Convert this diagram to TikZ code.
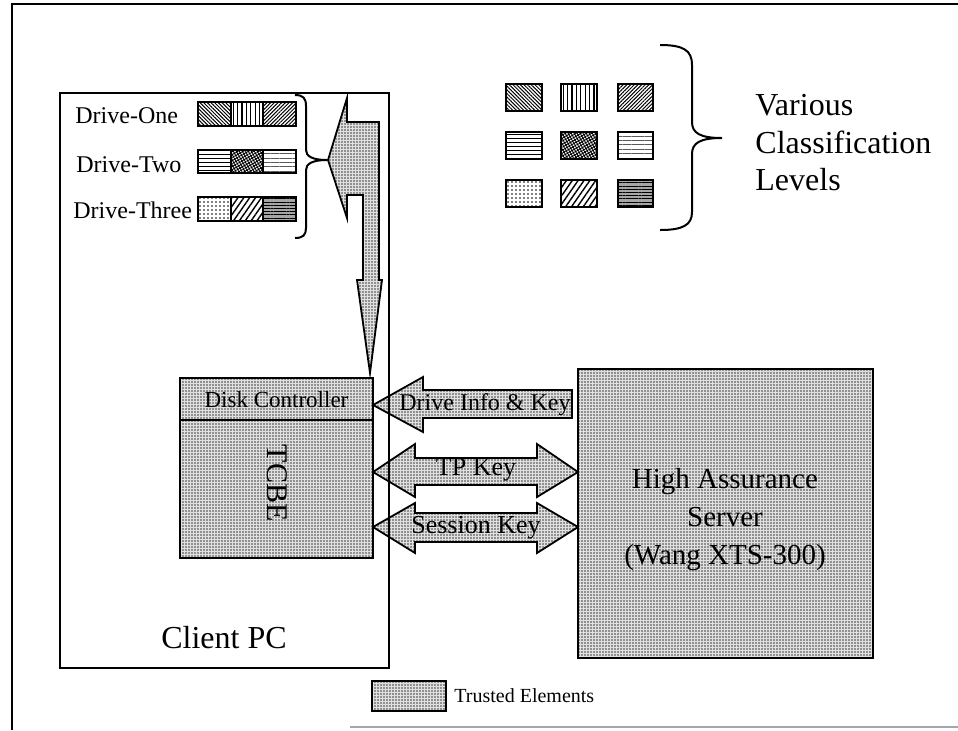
\documentclass[tikz,border=0pt]{standalone}
\usepackage{fontspec}
\setmainfont{Liberation Serif}
\usetikzlibrary{patterns,patterns.meta}
\begin{document}
\begin{tikzpicture}[x=0.5pt,y=-0.5pt,line join=miter,
  trusted/.style={draw,line width=0.9pt,preaction={fill=black!12},
    pattern={Dots[radius=0.42pt,distance=1.5pt]},pattern color=black!75},
  plain/.style={draw,line width=1pt},
  lvl/.style={draw,line width=0.9pt},
  txt/.style={inner sep=0pt},
  pA/.style={pattern={Lines[angle=-45,distance=1.3pt,line width=0.5pt]}},
  pB/.style={pattern={Lines[angle=90,distance=2.2pt,line width=0.55pt]}},
  pC/.style={pattern={Lines[angle=45,distance=1.3pt,line width=0.5pt]}},
  pD/.style={pattern={Lines[angle=0,distance=2pt,line width=0.5pt]}},
  pE/.style={pattern={Hatch[angle=30,distance=1.3pt,line width=0.45pt]}},
  pF/.style={pattern={Lines[angle=0,distance=2.2pt,line width=0.45pt]},pattern color=black!65},
  pG/.style={pattern={Dots[radius=0.4pt,distance=2pt]}},
  pH/.style={pattern={Lines[angle=55,distance=2.4pt,line width=0.7pt]}},
  pI/.style={preaction={fill=black!35},pattern={Lines[angle=0,distance=1.6pt,line width=0.5pt]}}
]
\useasboundingbox (0,0) rectangle (958,730);

% outer frame
\draw[line width=1.2pt] (12,730) -- (12,4) -- (958,4);
\draw[line width=0.8pt,black!35] (350,727) -- (958,727);

% classification levels grid
\draw[lvl,pA] (506,84) rectangle (542,111);
\draw[lvl,pB] (561,84) rectangle (597,111);
\draw[lvl,pC] (618,84) rectangle (653,111);
\draw[lvl,pD] (506,132) rectangle (542,159);
\draw[lvl,pE] (561,132) rectangle (597,159);
\draw[lvl,pF] (618,132) rectangle (653,159);
\draw[lvl,pG] (506,180) rectangle (542,207);
\draw[lvl,pH] (561,180) rectangle (597,207);
\draw[lvl,pI] (618,180) rectangle (653,207);

% right brace
\draw[line width=1pt] (660,45) .. controls (683,45) and (692,50) .. (692,65)
  -- (692,122) .. controls (692,133) and (700,138) .. (722,138)
  .. controls (700,138) and (692,143) .. (692,154)
  -- (692,212) .. controls (692,225) and (683,230) .. (660,230);
\node[txt,anchor=base west,font=\fontsize{16}{19}\selectfont] (various) at (755,115) {Various};
\node[txt,anchor=base west,font=\fontsize{16}{19}\selectfont] (classif) at (755,153) {Classification};
\node[txt,anchor=base west,font=\fontsize{16}{19}\selectfont] (levels) at (755,190) {Levels};

% drives
\node[txt,anchor=base west,font=\fontsize{12}{14}\selectfont] (d1) at (75,123) {Drive-One};
\node[txt,anchor=base west,font=\fontsize{12}{14}\selectfont] (d2) at (76,172) {Drive-Two};
\node[txt,anchor=base west,font=\fontsize{12}{14}\selectfont] (d3) at (73,218) {Drive-Three};
\draw[lvl,pA] (198,102) rectangle (231,126);
\draw[lvl,pB] (231,102) rectangle (263,126);
\draw[lvl,pC] (263,102) rectangle (296,126);
\draw[lvl,pD] (198,150) rectangle (231,173);
\draw[lvl,pE] (231,150) rectangle (263,173);
\draw[lvl,pF] (263,150) rectangle (296,173);
\draw[lvl,pG] (198,197) rectangle (231,221);
\draw[lvl,pH] (231,197) rectangle (263,221);
\draw[lvl,pI] (263,197) rectangle (296,221);

% left brace
\draw[line width=1pt] (295,95) .. controls (303,95) and (306,98) .. (306,106)
  -- (306,150) .. controls (306,156) and (312,160) .. (327,160)
  .. controls (312,160) and (306,164) .. (306,170)
  -- (306,228) .. controls (306,235) and (303,238) .. (295,238);

% big drive arrow
\draw[trusted] (328,160) -- (347,98) -- (347,122) -- (379,122) -- (379,280)
  -- (382,280) -- (370,373) -- (357,280) -- (363,280) -- (363,195)
  -- (347,195) -- (347,218) -- cycle;

% disk controller / TCBE
\draw[trusted] (180,378) rectangle (373,558);
\draw[line width=0.9pt] (180,420) -- (373,420);
\node[txt,font=\fontsize{11.5}{13}\selectfont] (dc) at (276.5,400) {Disk Controller};
\node[txt,rotate=-90,font=\fontsize{15}{18}\selectfont] (tcbe) at (277,483) {TCBE};

% key arrows
\draw[trusted] (373,405) -- (423,377) -- (423,390) -- (572,390) -- (572,418)
  -- (423,418) -- (423,432) -- cycle;
\draw[trusted] (373,472) -- (415,444) -- (415,458) -- (537,458) -- (537,444)
  -- (578,472) -- (537,497) -- (537,485) -- (415,485) -- (415,497) -- cycle;
\draw[trusted] (373,527) -- (415,503) -- (415,513) -- (537,513) -- (537,503)
  -- (578,527) -- (537,553) -- (537,542) -- (415,542) -- (415,553) -- cycle;
\node[txt,font=\fontsize{12}{14}\selectfont] (dik) at (485,405) {Drive Info \& Key};
\node[txt,font=\fontsize{13}{15}\selectfont] (tpk) at (476,470) {TP Key};
\node[txt,font=\fontsize{13}{15}\selectfont] (sk) at (476,528) {Session Key};

% client PC box
\draw[plain] (60,93) rectangle (389,668);
\node[txt,font=\fontsize{16}{19}\selectfont] (client) at (224,638) {Client PC};

% server
\draw[trusted] (578,369) rectangle (873,658);
\node[txt,align=center,font=\fontsize{14.5}{19}\selectfont] (server) at (725,520)
  {High Assurance\\Server\\(Wang XTS-300)};

% legend
\draw[trusted] (372,681) rectangle (446,711);
\node[txt,anchor=west,font=\fontsize{10}{12}\selectfont] (legend) at (454,696) {Trusted Elements};
\end{tikzpicture}
\end{document}
